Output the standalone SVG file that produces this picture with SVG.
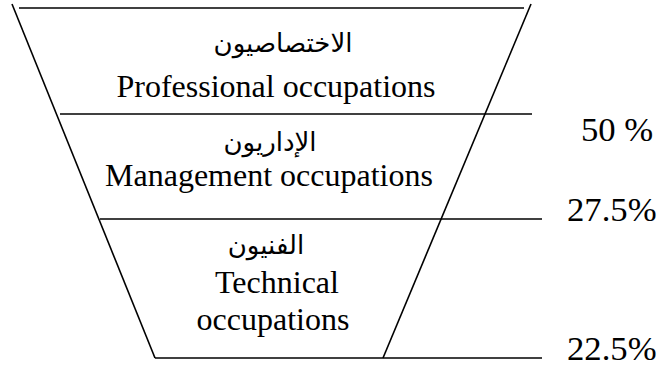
<svg xmlns="http://www.w3.org/2000/svg" width="659" height="367" viewBox="0 0 659 367">
<style>
.ln{stroke:#000;stroke-width:1.6;fill:none}
.en{font-family:"Liberation Serif","Times New Roman",serif;font-size:32px;fill:#000;text-anchor:middle}
.ar{font-family:"DejaVu Sans","Noto Sans",sans-serif;font-size:26px;fill:#000;text-anchor:middle}
.pc{font-family:"Liberation Serif","Times New Roman",serif;font-size:34.7px;fill:#000}
</style>
<rect width="659" height="367" fill="#fff"/>
<g id="connectors">
<line class="ln" x1="12" y1="4" x2="155" y2="358"/>
<line class="ln" x1="531" y1="4" x2="383" y2="358"/>
<line class="ln" x1="19" y1="8" x2="524" y2="8"/>
<line class="ln" x1="60" y1="114" x2="532" y2="114"/>
<line class="ln" x1="100" y1="219" x2="542" y2="219"/>
<line class="ln" x1="155" y1="358" x2="542" y2="358"/>
</g>
<g id="professional">
<text class="ar" x="283" y="52" direction="rtl">الاختصاصيون</text>
<text class="en" x="276" y="97">Professional occupations</text>
</g>
<g id="management">
<text class="ar" x="270" y="151" direction="rtl">الإداريون</text>
<text class="en" x="269" y="186">Management occupations</text>
</g>
<g id="technical">
<text class="ar" x="266" y="254" direction="rtl">الفنيون</text>
<text class="en" x="277" y="293">Technical</text>
<text class="en" x="273" y="330">occupations</text>
</g>
<g id="percentages">
<text class="pc" x="581" y="141">50 %</text>
<text class="pc" x="567" y="221">27.5%</text>
<text class="pc" x="567" y="360">22.5%</text>
</g>
</svg>
